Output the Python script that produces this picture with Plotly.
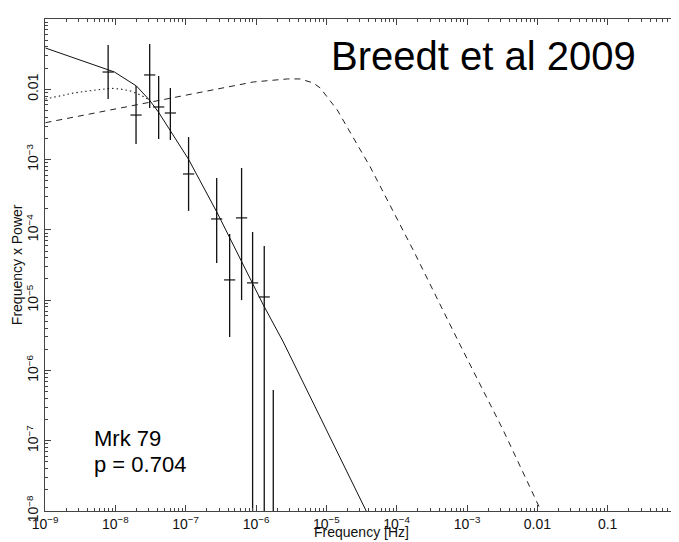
import plotly.graph_objects as go

# Data (frequency in Hz, frequency x power)
freq = [7.9e-9, 1.97e-8, 3.08e-8, 4.13e-8, 6.06e-8, 1.10e-7, 2.76e-7,
        4.22e-7, 6.24e-7, 8.95e-7, 1.31e-6, 1.76e-6]
fp = [0.0176, 0.0043, 0.0160, 0.0056, 0.0046, 6.24e-4, 1.43e-4,
      1.94e-5, 1.48e-4, 1.76e-5, 1.11e-5, 1e-9]
fp_hi = [0.0427, 0.0111, 0.044, 0.01546, 0.01045, 2.09e-3, 5.47e-4,
         8.74e-5, 7.6e-4, 9.33e-5, 5.9e-5, 5.28e-7]
fp_lo = [0.00728, 0.00167, 0.00542, 0.00196, 0.0019, 1.86e-4, 3.38e-5,
         3.0e-6, 1.0e-5, 1e-10, 1e-10, 1e-10]

# model curves (log10 f, log10 fP)
solid_logf = [-8.993, -8.013, -7.700, -7.516, -7.388, -7.217, -6.962,
              -6.550, -6.195, -5.896, -5.612, -4.675, -4.433]
solid_logp = [-1.413, -1.754, -1.953, -2.152, -2.323, -2.593, -2.991,
              -3.760, -4.471, -5.068, -5.595, -7.515, -8.0]

dotted_logf = [-8.993, -8.595, -8.354, -8.070, -7.929, -7.786, -7.643, -7.516]
dotted_logp = [-2.138, -2.053, -2.020, -1.986, -1.996, -2.024, -2.081, -2.152]

dashed_logf = [-8.993, -6.322, -6.038, -5.555, -5.371, -5.186, -5.087, -4.845,
               -4.618, -4.376, -4.192, -3.766, -3.098, -2.487, -1.947]
dashed_logp = [-2.475, -1.953, -1.896, -1.853, -1.853, -1.910, -1.981, -2.294,
               -2.679, -3.105, -3.461, -4.286, -5.637, -6.846, -7.999]

x_tickvals = [1e-9, 1e-8, 1e-7, 1e-6, 1e-5, 1e-4, 1e-3, 1e-2, 1e-1]
x_ticktext = ["10<sup>−9</sup>", "10<sup>−8</sup>", "10<sup>−7</sup>", "10<sup>−6</sup>",
              "10<sup>−5</sup>", "10<sup>−4</sup>", "10<sup>−3</sup>", "0.01", "0.1"]
y_tickvals = [1e-8, 1e-7, 1e-6, 1e-5, 1e-4, 1e-3, 1e-2, 1e-1]
y_ticktext = ["10<sup>−8</sup>", "10<sup>−7</sup>", "10<sup>−6</sup>", "10<sup>−5</sup>",
              "10<sup>−4</sup>", "10<sup>−3</sup>", "0.01", "0.1"]

minor_x = [m * 10.0 ** e for e in range(-9, 0) for m in range(2, 10)]
minor_y = [m * 10.0 ** e for e in range(-8, -1) for m in range(2, 10)]

FONT = "Liberation Sans, Arial, sans-serif"
INK = "#111"
BODY = 8  # default page margin around the plot div

fig = go.Figure()

fig.add_trace(go.Scatter(
    x=[10 ** v for v in dashed_logf], y=[10 ** v for v in dashed_logp],
    mode="lines", line=dict(color="#222", width=1, dash="6px,5px"),
    showlegend=False, hoverinfo="skip"))
fig.add_trace(go.Scatter(
    x=[10 ** v for v in dotted_logf], y=[10 ** v for v in dotted_logp],
    mode="lines", line=dict(color="#222", width=1.1, dash="1.5px,3px"),
    showlegend=False, hoverinfo="skip"))
fig.add_trace(go.Scatter(
    x=[10 ** v for v in solid_logf], y=[10 ** v for v in solid_logp],
    mode="lines", line=dict(color=INK, width=1),
    showlegend=False, hoverinfo="skip"))

fig.add_trace(go.Scatter(
    x=freq, y=fp, mode="markers",
    marker=dict(symbol="line-ew", size=8, line=dict(color=INK, width=1.2)),
    error_y=dict(type="data", symmetric=False,
                 array=[h - v for h, v in zip(fp_hi, fp)],
                 arrayminus=[v - l for v, l in zip(fp, fp_lo)],
                 color=INK, thickness=1.3, width=0),
    showlegend=False))

axis_common = dict(
    type="log", showgrid=False, zeroline=False,
    showline=True, linecolor="#444", linewidth=1, mirror="ticks",
    ticks="inside", ticklen=6, tickcolor="#444", tickwidth=1,
    tickfont=dict(family=FONT, size=14, color=INK),
)

fig.update_xaxes(
    **axis_common, range=[-9, 0],
    tickmode="array", tickvals=x_tickvals, ticktext=x_ticktext,
    minor=dict(tickmode="array", tickvals=minor_x, ticks="inside",
               ticklen=3, tickcolor="#444"),
)
fig.update_yaxes(
    **axis_common, range=[-8, -1], tickangle=-90,
    tickmode="array", tickvals=y_tickvals, ticktext=y_ticktext,
    minor=dict(tickmode="array", tickvals=minor_y, ticks="inside",
               ticklen=3, tickcolor="#444"),
)

# axis titles
fig.add_annotation(text="Frequency [Hz]", xref="paper", yref="paper",
                   x=0.5, y=-0.042, xanchor="center", yanchor="middle",
                   showarrow=False, font=dict(family=FONT, size=14, color=INK))
fig.add_annotation(text="Frequency x Power", xref="paper", yref="paper",
                   x=-0.044, y=0.5, xanchor="center", yanchor="middle", textangle=-90,
                   showarrow=False, font=dict(family=FONT, size=14, color=INK))

fig.add_annotation(text="Breedt et al 2009", xref="paper", yref="paper",
                   x=0.449, y=0.925, xanchor="left", yanchor="middle",
                   showarrow=False, font=dict(family=FONT, size=40, color="black"))
fig.add_annotation(text="Mrk 79", xref="paper", yref="paper",
                   x=0.075, y=0.148, xanchor="left", yanchor="middle",
                   showarrow=False, font=dict(family=FONT, size=22, color="black"))
fig.add_annotation(text="p = 0.704", xref="paper", yref="paper",
                   x=0.075, y=0.095, xanchor="left", yanchor="middle",
                   showarrow=False, font=dict(family=FONT, size=22, color="black"))

fig.update_layout(
    width=679 - BODY, height=542 - BODY,
    margin=dict(l=44.5 - BODY, r=1, t=19 - BODY, b=31, autoexpand=False),
    paper_bgcolor="white", plot_bgcolor="white",
    font=dict(family=FONT, color=INK),
)

fig.write_html("out.html")
